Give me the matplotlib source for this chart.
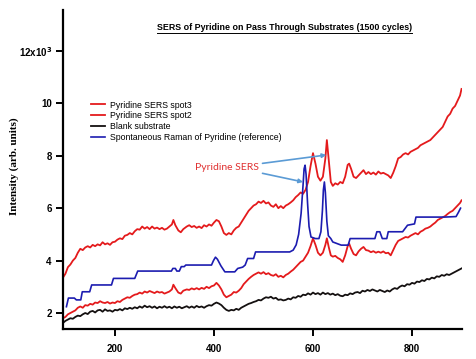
import numpy as np
import matplotlib
matplotlib.use("Agg")
import matplotlib.pyplot as plt
from matplotlib.lines import Line2D

# Pyridine SERS spot3 (upper red), intensity in 10^3 arb. units
spot3_x = [95, 100, 105, 110, 115, 120, 125, 130, 135, 140, 145, 150, 155, 160, 165, 170, 175, 180, 185, 190,
           195, 200, 205, 210, 215, 220, 225, 230, 235, 240, 245, 250, 255, 260, 265, 270, 275, 280, 285, 290,
           295, 300, 305, 310, 315, 318, 322, 328, 333, 338, 345, 350, 355, 360, 365, 370, 375, 380, 385, 390,
           395, 400, 405, 410, 415, 420, 425, 430, 435, 440, 445, 450, 455, 460, 465, 470, 475, 480, 485, 490,
           495, 500, 505, 510, 515, 520, 525, 530, 535, 540, 545, 550, 555, 560, 565, 570, 575, 580, 585, 590,
           595, 600, 605, 610, 615, 620, 625, 628, 632, 636, 640, 645, 650, 655, 660, 665, 670, 673, 677, 682,
           687, 692, 697, 702, 707, 712, 717, 722, 727, 732, 737, 742, 747, 752, 757, 762, 767, 772, 777, 782,
           787, 792, 797, 802, 807, 812, 817, 822, 827, 832, 837, 842, 847, 852, 857, 862, 867, 872, 877, 882,
           887, 892, 897, 900]
spot3_y = [3.35, 3.5, 3.75, 3.85, 4.0, 4.1, 4.3, 4.45, 4.4, 4.5, 4.55, 4.5, 4.6, 4.55, 4.62, 4.58, 4.7, 4.62, 4.66, 4.6,
           4.7, 4.72, 4.8, 4.85, 4.82, 4.95, 4.98, 5.05, 5.0, 5.12, 5.2, 5.18, 5.3, 5.22, 5.28, 5.2, 5.3, 5.22, 5.26, 5.2,
           5.25, 5.18, 5.22, 5.3, 5.38, 5.55, 5.35, 5.15, 5.08, 5.2, 5.3, 5.35, 5.28, 5.32, 5.25, 5.3, 5.24, 5.35, 5.3, 5.38,
           5.33, 5.45, 5.55, 5.5, 5.3, 5.05, 4.98, 5.05, 5.0, 5.15, 5.25, 5.3, 5.45, 5.6, 5.75, 5.9, 6.0, 6.1, 6.15, 6.25,
           6.2, 6.28, 6.18, 6.22, 6.1, 6.05, 6.15, 6.0, 6.08, 6.0, 6.1, 6.15, 6.22, 6.3, 6.42, 6.5, 6.6, 6.55, 6.7, 7.0,
           7.6, 8.1, 7.7, 7.2, 7.05, 7.2, 7.9, 8.6, 7.8, 7.0, 6.85, 6.95, 6.9, 7.0, 6.95, 7.2, 7.65, 7.7, 7.5, 7.2,
           7.15, 7.25, 7.35, 7.45, 7.3, 7.38, 7.3, 7.36, 7.28, 7.4, 7.32, 7.35, 7.3, 7.25, 7.15, 7.35, 7.6, 7.9, 7.95, 8.05,
           8.1, 8.05, 8.15, 8.2, 8.25, 8.3, 8.4, 8.45, 8.5, 8.55, 8.6, 8.7, 8.8, 8.9, 9.0, 9.1, 9.3, 9.5, 9.6, 9.8,
           9.9, 10.1, 10.3, 10.55]

# Pyridine SERS spot2 (lower red)
spot2_x = spot3_x
spot2_y = [1.8, 1.85, 1.95, 2.0, 2.05, 2.1, 2.2, 2.25, 2.2, 2.3, 2.28, 2.35, 2.32, 2.4, 2.38, 2.45, 2.4, 2.38, 2.42, 2.36,
           2.4, 2.38, 2.45, 2.42, 2.5, 2.55, 2.6, 2.58, 2.65, 2.7, 2.72, 2.78, 2.74, 2.82, 2.78, 2.84, 2.8, 2.76, 2.82, 2.78,
           2.8, 2.74, 2.78, 2.82, 2.9, 3.08, 2.95, 2.78, 2.74, 2.85, 2.9, 2.88, 2.94, 2.9, 2.95, 2.9, 2.96, 2.92, 3.0, 2.95,
           3.02, 3.05, 3.15, 3.05, 2.9, 2.7, 2.6, 2.65, 2.7, 2.8, 2.78, 2.85, 2.95, 3.1, 3.2, 3.3, 3.38, 3.45, 3.5, 3.55,
           3.5, 3.56, 3.48, 3.52, 3.45, 3.42, 3.48, 3.38, 3.42, 3.36, 3.45, 3.5, 3.58, 3.65, 3.75, 3.85, 3.95, 4.0, 4.15, 4.3,
           4.55, 4.85, 4.6, 4.3, 4.2, 4.3, 4.6, 4.85, 4.5, 4.2, 4.15, 4.18, 4.1, 4.05, 3.95, 4.2, 4.55, 4.65, 4.45, 4.25,
           4.2, 4.35, 4.45, 4.52, 4.4, 4.38, 4.32, 4.36, 4.3, 4.34, 4.3, 4.35, 4.28, 4.3, 4.2, 4.4, 4.6, 4.75, 4.8, 4.85,
           4.9, 4.88, 4.95, 5.0, 5.05, 5.0, 5.1, 5.15, 5.22, 5.25, 5.3, 5.38, 5.45, 5.55, 5.6, 5.65, 5.7, 5.78, 5.85, 5.9,
           6.0, 6.1, 6.2, 6.3]

# Blank substrate (black)
blank_x = list(range(95, 901, 5))
blank_y = [1.62, 1.7, 1.75, 1.8, 1.78, 1.85, 1.9, 1.88, 1.95, 2.0, 1.96, 2.05, 2.08, 2.02, 2.1, 2.12, 2.05, 2.14, 2.08, 2.1,
           2.05, 2.12, 2.1, 2.15, 2.1, 2.18, 2.15, 2.2, 2.16, 2.22, 2.18, 2.25, 2.2, 2.28, 2.22, 2.26, 2.2, 2.25, 2.18, 2.24,
           2.2, 2.26, 2.2, 2.24, 2.18, 2.25, 2.2, 2.24, 2.18, 2.22, 2.26, 2.2, 2.25, 2.2, 2.27, 2.22, 2.25, 2.2, 2.26, 2.3,
           2.28, 2.35, 2.4, 2.36, 2.3, 2.2, 2.12, 2.08, 2.12, 2.1, 2.16, 2.12, 2.2, 2.25, 2.3, 2.35, 2.38, 2.42, 2.45, 2.5,
           2.48, 2.55, 2.6, 2.58, 2.62, 2.55, 2.58, 2.5, 2.52, 2.48, 2.5, 2.55, 2.52, 2.6, 2.58, 2.65, 2.62, 2.7, 2.68, 2.75,
           2.7, 2.78, 2.72, 2.76, 2.7, 2.78, 2.72, 2.76, 2.7, 2.74, 2.68, 2.72, 2.66, 2.64, 2.7, 2.68, 2.75, 2.72, 2.78, 2.8,
           2.76, 2.85, 2.82, 2.88, 2.84, 2.9, 2.86, 2.82, 2.88, 2.84, 2.8, 2.86, 2.82, 2.9, 2.95, 2.92, 3.0, 3.05, 3.02, 3.1,
           3.08, 3.15, 3.12, 3.2, 3.18, 3.25, 3.22, 3.3, 3.28, 3.35, 3.32, 3.4, 3.38, 3.45, 3.42, 3.48, 3.45, 3.5, 3.55, 3.6,
           3.65, 3.7]

# Spontaneous Raman of Pyridine (blue, step-like reference)
ref_x = [102, 106, 118, 122, 131, 134, 149, 153, 193, 197, 240, 246, 314, 317, 322, 325, 330, 334, 340, 343,
         395, 399, 403, 407, 414, 422, 442, 448, 458, 463, 468, 480, 484, 553, 560, 566, 571, 576, 580, 582,
         584, 586, 589, 592, 596, 605, 612, 616, 619, 621, 623, 625, 628, 631, 636, 640, 657, 671, 675, 725,
         729, 735, 740, 749, 752, 781, 785, 791, 805, 808, 866, 889, 894, 898]
ref_y = [2.24, 2.57, 2.57, 2.5, 2.5, 2.81, 2.81, 3.07, 3.07, 3.32, 3.32, 3.6, 3.6, 3.7, 3.7, 3.6, 3.6, 3.77, 3.77, 3.83,
         3.83, 4.0, 4.13, 4.05, 3.8, 3.57, 3.57, 3.7, 3.75, 3.83, 4.08, 4.08, 4.33, 4.33, 4.4, 4.6, 5.0, 5.8, 6.9, 7.5,
         7.64, 7.3, 6.2, 5.3, 4.9, 4.84, 4.84, 5.1, 5.9, 6.7, 7.0, 6.6, 5.5, 4.95, 4.84, 4.71, 4.59, 4.59, 4.84, 4.84,
         5.1, 5.1, 4.84, 4.84, 5.1, 5.1, 5.2, 5.35, 5.4, 5.66, 5.66, 5.68, 5.85, 6.0]

series_labels = ["Pyridine SERS spot3", "Pyridine SERS spot2", "Blank substrate",
                 "Spontaneous Raman of Pyridine (reference)"]
y_ticks = [2, 4, 6, 8, 10, 12]
y_ticklabels = ["2", "4", "6", "8", "10", r"12x10$^{\mathbf{3}}$"]
x_ticks = [200, 400, 600, 800]

# annotation: text anchor and arrow targets (data coords)
annot_text_xy = (490, 7.55)
arrow_start = [(498, 7.71), (498, 7.33)]
arrow_end = [(627, 8.03), (580, 7.0)]

red = "#e41a1c"
blue = "#1c1cb0"
black = "#141010"

fig = plt.figure(figsize=(4.77, 3.59), dpi=100)
ax = fig.add_axes([0.132, 0.0836, 0.8366, 0.8884])

ax.plot(spot3_x, spot3_y, color=red, lw=1.3, label=series_labels[0])
ax.plot(spot2_x, spot2_y, color=red, lw=1.3, label=series_labels[1])
ax.plot(blank_x, blank_y, color=black, lw=1.3, label=series_labels[2])
ax.plot(ref_x, ref_y, color=blue, lw=1.2, label=series_labels[3])

ax.set_xlim(95, 901)
ax.set_ylim(1.39, 13.56)
ax.set_xticks(x_ticks)
ax.set_yticks(y_ticks)
ax.set_yticklabels(y_ticklabels)
for lab in ax.get_xticklabels() + ax.get_yticklabels():
    lab.set_fontfamily("Liberation Sans")
    lab.set_fontweight("bold")
    lab.set_fontsize(7)
ax.tick_params(direction="out", length=5, width=1.4, color="black")
ax.tick_params(axis="x", pad=6)
ax.tick_params(axis="y", pad=3)
for s in ["top", "right"]:
    ax.spines[s].set_visible(False)
for s in ["left", "bottom"]:
    ax.spines[s].set_linewidth(1.6)

ax.set_ylabel("Intensity (arb. units)", fontfamily="Liberation Serif", fontweight="bold", fontsize=8)
ax.yaxis.set_label_coords(-0.11, 0.51)

leg = ax.legend(loc="upper left", bbox_to_anchor=(0.06, 0.73), frameon=False,
                prop={"family": "Liberation Sans", "size": 6.3},
                handlelength=1.6, handletextpad=0.5, labelspacing=0.2, borderpad=0)

ax.text(annot_text_xy[0], annot_text_xy[1], "Pyridine SERS", color="#e03030",
        fontfamily="Lato", fontsize=7.5, ha="right", va="center")
for s, e in zip(arrow_start, arrow_end):
    ax.annotate("", xy=e, xytext=s,
                arrowprops=dict(arrowstyle="-|>", color="#5b9bd5", lw=1.2,
                                mutation_scale=6, shrinkA=0, shrinkB=0))

title_y = 0.916
title = fig.text(0.596, title_y, "SERS of Pyridine on Pass Through Substrates (1500 cycles)",
                 fontfamily="Liberation Sans", fontweight="bold", fontsize=6.4, ha="center", va="baseline")
fig.canvas.draw()
bb = title.get_window_extent().transformed(fig.transFigure.inverted())
uy = title_y - 0.008
fig.add_artist(Line2D([bb.x0, bb.x1], [uy, uy], color="black", lw=0.7, transform=fig.transFigure))

fig.savefig("out.png", dpi=100)
